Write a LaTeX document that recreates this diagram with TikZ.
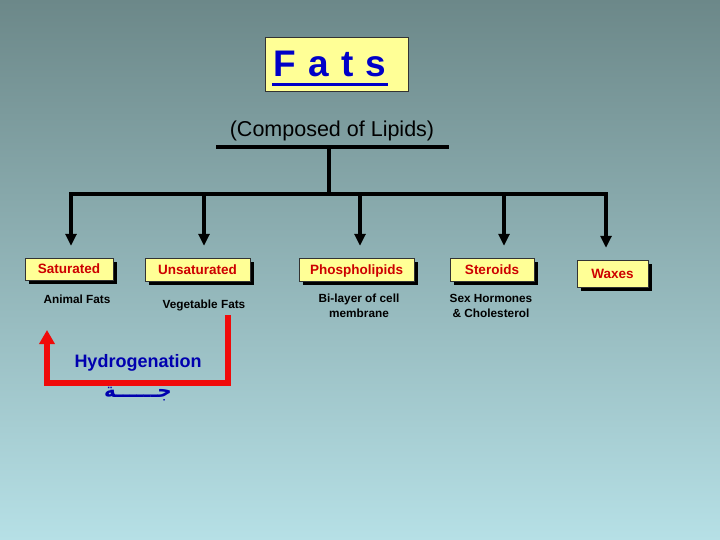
\documentclass[tikz,border=0pt]{standalone}
\usepackage{fontspec}
\setmainfont{Liberation Sans}
\newfontfamily\arabicfont[Script=Arabic]{DejaVu Sans}
\TeXXeTstate=1
\usetikzlibrary{arrows.meta, positioning, shadows}
\definecolor{bgtop}{RGB}{108,136,137}
\definecolor{bgbottom}{RGB}{182,224,230}
\definecolor{boxyellow}{RGB}{255,255,150}
\definecolor{fatred}{RGB}{205,0,0}
\definecolor{hydrored}{RGB}{240,10,10}
\definecolor{fatblue}{RGB}{0,0,200}
\definecolor{hydroblue}{RGB}{0,0,175}
\tikzset{
    typebox/.style={rectangle, draw=black!80, fill=boxyellow, inner sep=0pt, text height=9.5pt, text depth=0.5pt, text=fatred, font=\fontsize{13.5}{16}\selectfont\bfseries, drop shadow={shadow xshift=4pt, shadow yshift=-4pt, fill=black, opacity=1}},
    note/.style={font=\fontsize{11.8}{15}\selectfont\bfseries, align=center, text=black},
    busline/.style={line width=4pt, black, line cap=rect},
    droparrow/.style={-{Triangle[length=12pt, width=11pt]}, line width=3.5pt, black, shorten >=12pt},
    hydroarrow/.style={-{Triangle[length=14pt, width=15pt]}, line width=5.5pt, hydrored},
}

\begin{document}
\begin{tikzpicture}[x=1pt, y=-1pt]

% background
\shade[top color=bgtop, bottom color=bgbottom] (0,0) rectangle (720,540);
\useasboundingbox (0,0) rectangle (720,540);

% Title
\node[rectangle, draw=black!80, fill=boxyellow, minimum width=143pt, minimum height=54pt] (title) at (336.5,64) {};
\node[anchor=base, inner sep=0pt, text=fatblue, font=\fontsize{37}{40}\selectfont\bfseries] (fatstxt) at (330,77) {F\hspace{12pt}a\hspace{12pt}t\hspace{12pt}s};
\draw[line width=3pt, fatblue] ([shift={(-2pt,-8pt)}]fatstxt.base west) -- ([shift={(2pt,-8pt)}]fatstxt.base east);

\node[font=\fontsize{21.5}{24}\selectfont] (comp) at (332,131) {(Composed of Lipids)};

% Tree lines
\coordinate (capL) at (216,147);
\coordinate (capR) at (449,147);
\coordinate (capM) at (329,147);
\coordinate (busM) at (329,194);
\coordinate (b1) at (71,194);
\coordinate (b2) at (204,194);
\coordinate (b3) at (360,194);
\coordinate (b4) at (504,194);
\coordinate (b5) at (606,194);
\draw[line width=4pt] (capL) -- (capR);
\draw[line width=4pt] (capM) -- (busM);
\draw[busline] (b1) -- (b5);

% Types of fats
\node[typebox, minimum width=88pt, minimum height=22pt] (sat) at (69,269) {Saturated};
\node[typebox, minimum width=105pt, minimum height=23pt] (unsat) at (197.5,269.5) {Unsaturated};
\node[typebox, minimum width=115pt, minimum height=23pt] (phos) at (356.5,269.5) {Phospholipids};
\node[typebox, minimum width=84pt, minimum height=23pt] (ster) at (492,269.5) {Steroids};
\node[typebox, minimum width=71pt, minimum height=27pt] (wax) at (612.5,273.5) {Waxes};

\draw[droparrow] (b1) -- (b1 |- sat.north);
\draw[droparrow] (b2) -- (b2 |- unsat.north);
\draw[droparrow] (b3) -- (b3 |- phos.north);
\draw[droparrow] (b4) -- (b4 |- ster.north);
\draw[droparrow] (b5) -- (b5 |- wax.north);

% Examples
\node[note] (animal) at (77,299) {Animal Fats};
\node[note] (veg) at (204,305) {Vegetable Fats};
\node[note] (bilayer) at (359,306) {Bi-layer of cell\\membrane};
\node[note] (hormone) at (491,306) {Sex Hormones\\\& Cholesterol};

% Hydrogenation
\coordinate (hstart) at (228,315);
\coordinate (hcorner) at (228,383);
\coordinate (hend) at (47,330);
\draw[hydroarrow] (hstart) -- (hcorner) -| (hend);
\node[text=hydroblue, font=\fontsize{18}{20}\selectfont\bfseries] (hydro) at (138,363) {Hydrogenation};
\node[text=hydroblue, font=\arabicfont\bfseries\fontsize{20}{24}\selectfont] (arab) at (138,394) {\beginR جــــــة\endR};

\end{tikzpicture}
\end{document}
